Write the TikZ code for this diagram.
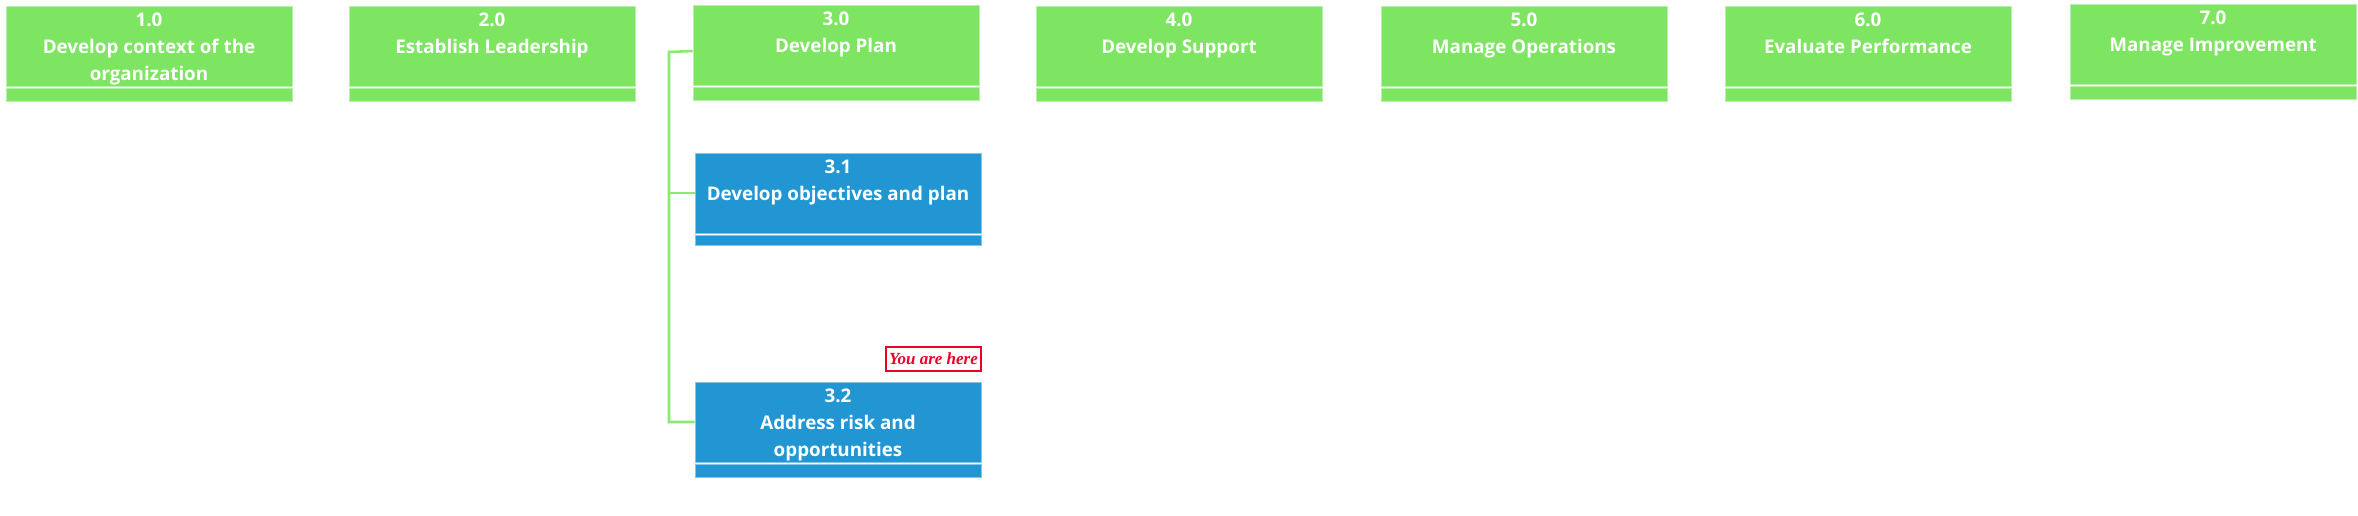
\documentclass[tikz,border=0pt]{standalone}
\usepackage{fontspec}
\setmainfont{Open Sans}
\newfontfamily\herefont{Liberation Serif}
\usetikzlibrary{positioning}
\definecolor{stagegreen}{RGB}{125,229,98}
\definecolor{taskblue}{RGB}{33,150,211}
\definecolor{linkgreen}{RGB}{140,232,112}
\definecolor{herered}{RGB}{236,0,40}
\begin{document}
\begin{tikzpicture}[x=1pt,y=-1pt,
  stage/.style={draw=stagegreen!55!white, line width=0.8pt, fill=stagegreen,
    minimum width=286pt, minimum height=80pt, inner sep=0pt},
  task/.style={stage, draw=taskblue!55!white, fill=taskblue},
  stagebar/.style={stage, minimum height=13pt},
  taskbar/.style={task, minimum height=13pt},
  txt/.style={text=white, font=\fontsize{18.8}{27}\selectfont\bfseries, align=center, inner sep=0pt},
  link/.style={draw=linkgreen, line width=2.6pt},
  here/.style={draw=herered, line width=1.8pt, fill=white, text=herered,
    font=\herefont\fontsize{17}{18}\selectfont\bfseries\itshape,
    minimum width=95pt, minimum height=24pt, inner sep=0pt}]
  \useasboundingbox[fill=white] (0,0) rectangle (2358,516);

  % Top level stages
  \node[stage] (Ctx) at (149,46) {};
  \node[stage] (Lead) at (492,46) {};
  \node[stage] (Plan) at (836,45) {};
  \node[stage] (Sup) at (1179,46) {};
  \node[stage] (Ops) at (1524,46) {};
  \node[stage] (Eval) at (1868,46) {};
  \node[stage] (Impr) at (2213,44) {};

  \node[stagebar, below=2pt of Ctx] (CtxBar) {};
  \node[stagebar, below=2pt of Lead] (LeadBar) {};
  \node[stagebar, below=2pt of Plan] (PlanBar) {};
  \node[stagebar, below=2pt of Sup] (SupBar) {};
  \node[stagebar, below=2pt of Ops] (OpsBar) {};
  \node[stagebar, below=2pt of Eval] (EvalBar) {};
  \node[stagebar, below=2pt of Impr] (ImprBar) {};

  \node[txt, below=7pt of Ctx.north] (CtxTxt) {1.0\\Develop context of the\\organization};
  \node[txt, below=7pt of Lead.north] (LeadTxt) {2.0\\Establish Leadership};
  \node[txt, below=7pt of Plan.north] (PlanTxt) {3.0\\Develop Plan};
  \node[txt, below=7pt of Sup.north] (SupTxt) {4.0\\Develop Support};
  \node[txt, below=7pt of Ops.north] (OpsTxt) {5.0\\Manage Operations};
  \node[txt, below=7pt of Eval.north] (EvalTxt) {6.0\\Evaluate Performance};
  \node[txt, below=7pt of Impr.north] (ImprTxt) {7.0\\Manage Improvement};

  % Sub tasks of 3.0
  \node[task] (Obj) at (838,193) {};
  \node[taskbar, below=2pt of Obj, minimum height=10pt] (ObjBar) {};
  \node[txt, below=7pt of Obj.north] (ObjTxt) {3.1\\Develop objectives and plan};

  \node[task] (Risk) at (838,422) {};
  \node[taskbar, below=2pt of Risk] (RiskBar) {};
  \node[txt, below=7pt of Risk.north] (RiskTxt) {3.2\\Address risk and\\opportunities};

  \node[here] (Here) at (933.5,359) {You are here};

  % Tree links
  \coordinate (Trunk) at (669,52);
  \draw[link] ([yshift=-6pt]Plan.west) -- (Trunk) |- (Risk.west);
  \draw[link] (Obj.west) -- (Obj.west -| Trunk);
\end{tikzpicture}
\end{document}
